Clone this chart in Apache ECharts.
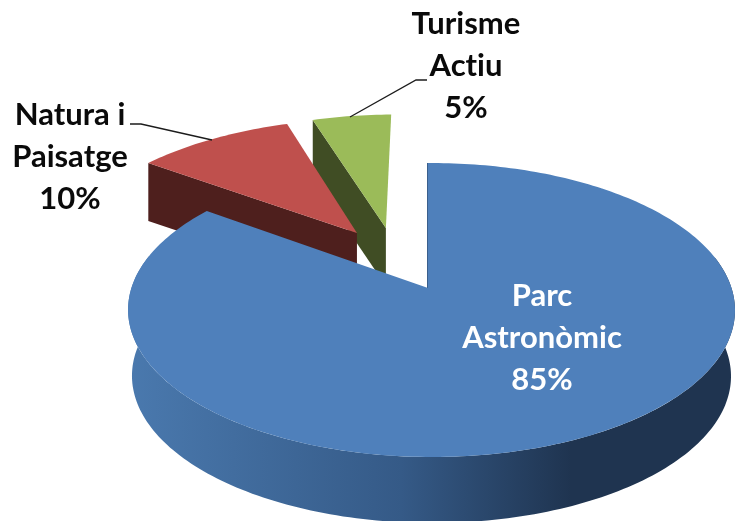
<!DOCTYPE html>
<html><head><meta charset="utf-8">
<style>html,body{margin:0;padding:0;background:#fff}#c{width:735px;height:521px}</style>
<script src="https://cdn.jsdelivr.net/npm/echarts@6/dist/echarts.min.js"></script>
</head><body><div id="c"></div>
<script>
const categories = ['Parc Astronòmic', 'Natura i Paisatge', 'Turisme Actiu'];
const labelLines = [['Parc', 'Astronòmic'], ['Natura i', 'Paisatge'], ['Turisme', 'Actiu']];
const shares = [85, 10, 5];

// Projection of the pie plane onto the screen (perspective).
const view = {cx: 428, cy: 288, A: 300, B: 143.7, k: 0.1497, m: 0.0115};
// Per-slice styling: explosion in plane units, radius, extrusion depth.
const looks = [
  {ox: 0, oy: 0, r: 1, depth: 66, shrink: 0.987, top: '#4f80bb', text: '#ffffff', lx: 542, ly: 296},
  {ox: -0.252, oy: -0.407, r: 1.03, depth: 58, shrink: 1, top: '#bf504d', side: '#4e1f1d', text: '#0a0a0a', lx: 70, ly: 115,
    leader: [[130, 124], [141, 124], [212, 140]]},
  {ox: -0.15, oy: -0.446, r: 1.03, depth: 58, shrink: 1, top: '#9bbb59', side: '#404d24', text: '#0a0a0a', lx: 466, ly: 24,
    leader: [[350, 117], [416, 80], [427, 80]]}
];

// Calibri-style text has no "ti" ligature, so switch font ligatures off on the canvas.
const nativeGetContext = HTMLCanvasElement.prototype.getContext;
HTMLCanvasElement.prototype.getContext = function () {
  const ctx = nativeGetContext.apply(this, arguments);
  if (ctx && 'textRendering' in ctx) ctx.textRendering = 'optimizeSpeed';
  return ctx;
};

function project(x, y) {
  const w = 1 - view.k * y - view.m * x;
  return [view.cx + view.A * x / w, view.cy + view.B * y / w];
}
const total = shares.reduce((a, b) => a + b, 0);
const slices = [];
let cum = 0;
shares.forEach((v, i) => {
  slices.push({i, start: cum / total * 2 * Math.PI, end: (cum + v) / total * 2 * Math.PI});
  cum += v;
});
function rimPoint(l, t) {
  return project(l.ox + l.r * Math.sin(t), l.oy - l.r * Math.cos(t));
}
function arc(l, a, b) {
  const n = Math.max(8, Math.ceil(Math.abs(b - a) / 0.02)), pts = [];
  for (let j = 0; j <= n; j++) pts.push(rimPoint(l, a + (b - a) * j / n));
  return pts;
}
function lower(l, p) {
  return [view.cx + (p[0] - view.cx) * l.shrink, p[1] + l.depth];
}
function renderItem(params) {
  const s = slices[drawOrder[params.dataIndex]];
  const l = looks[s.i];
  const apex = project(l.ox, l.oy);
  const rim = arc(l, s.start, s.end);
  const children = [];
  if (s.i === 0) {
    // Curved outer wall, only the part turned towards the viewer.
    const front = arc(l, 1.35, 4.95);
    children.push({type: 'polygon', shape: {points: front.concat(front.map(p => lower(l, p)).reverse())},
      style: {fill: new echarts.graphic.LinearGradient(0, 0, 1, 0, [
        {offset: 0, color: '#4a79ae'}, {offset: 0.45, color: '#355a87'},
        {offset: 0.73, color: '#1f3450'}, {offset: 1, color: '#1f3450'}])}});
    children.push({type: 'line', shape: {x1: apex[0] - 0.5, y1: apex[1], x2: rim[0][0] - 0.5, y2: rim[0][1]},
      style: {stroke: '#3a5f8c', lineWidth: 1}});
  } else {
    // Flat cut wall along the slice's first edge.
    const e = rimPoint(l, s.start);
    children.push({type: 'polygon',
      shape: {points: [e, apex, lower(l, apex), lower(l, e)]}, style: {fill: l.side}});
  }
  children.push({type: 'polygon', shape: {points: [apex].concat(rim)}, style: {fill: l.top}});
  return {type: 'group', children};
}
function renderLabel(params) {
  const s = slices[params.dataIndex];
  const l = looks[s.i];
  const children = [{
    type: 'text', z2: 50,
    style: {x: l.lx, y: l.ly - 21, text: labelLines[s.i].concat(shares[s.i] + '%').join('\n'),
      fill: l.text, font: 'bold 31px Lato', lineHeight: 42, align: 'center', verticalAlign: 'top'}
  }];
  if (l.leader) children.push({type: 'polyline', z2: 40, shape: {points: l.leader},
    style: {stroke: '#1c1c1c', lineWidth: 1.3, fill: null}});
  return {type: 'group', children};
}
const drawOrder = [2, 1, 0];
const chart = echarts.init(document.getElementById('c'), null, {renderer: 'canvas'});
chart.setOption({
  animation: false,
  backgroundColor: '#ffffff',
  series: [
    {type: 'custom', coordinateSystem: 'none', silent: true, z: 1, renderItem,
      data: drawOrder.map(i => ({name: categories[i], value: shares[i]}))},
    {type: 'custom', coordinateSystem: 'none', silent: true, z: 2, renderItem: renderLabel,
      data: categories.map((c, i) => ({name: c, value: shares[i]}))}
  ]
});
</script></body></html>
